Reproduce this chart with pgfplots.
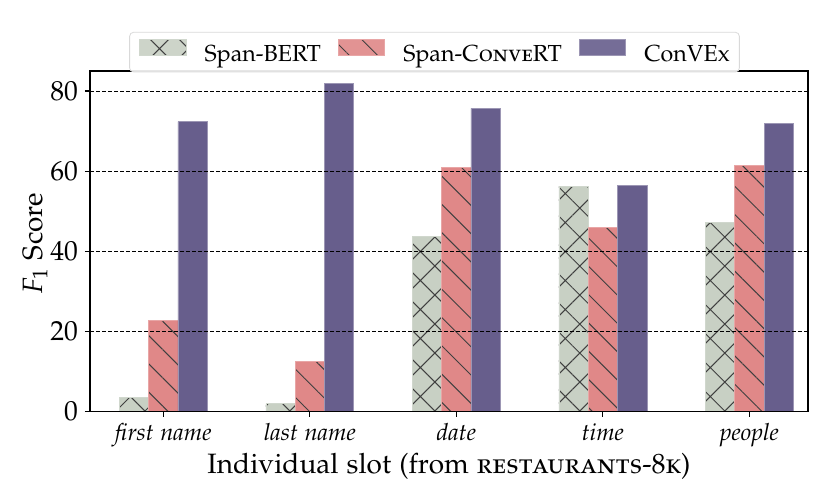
\documentclass[border=0pt]{standalone}
\usepackage[T1]{fontenc}
\usepackage[sc]{mathpazo}
\usepackage{pgfplots}
\pgfplotsset{compat=1.18}
\usetikzlibrary{patterns.meta}
\definecolor{cgreen}{RGB}{200,208,196}
\definecolor{cpink}{RGB}{224,136,136}
\definecolor{cpurple}{RGB}{103,94,140}
\definecolor{hatchc}{RGB}{64,64,64}
\begin{document}
\begin{tikzpicture}
\begin{axis}[
  scale only axis,
  width=359pt, height=170.35pt,
  xmin=-0.5, xmax=4.4, ymin=0, ymax=85,
  xtick={0,1,2,3,4},
  xticklabels={first name,last name,date,time,people},
  xticklabel style={font=\fontsize{11.8}{14}\selectfont\itshape, inner ysep=1pt, yshift=-2pt},
  ytick={0,20,40,60,80},
  yticklabel style={font=\fontsize{13.8}{15}\selectfont},
  ymajorgrids,
  grid style={black, line width=0.5pt, dash pattern=on 2pt off 1pt},
  axis line style={line width=0.8pt},
  axis on top,
  tick align=outside, tick pos=left,
  major tick length=2.5pt,
  tick style={black, line width=0.6pt},
  ybar=0pt, bar width=14.65pt,
  xlabel={Individual slot (from \textsc{restaurants-8k})},
  ylabel={$F_1$ Score},
  label style={font=\fontsize{14}{16}\selectfont},
  xlabel style={at={(axis description cs:0.5,0)}, anchor=center, yshift=-27.4pt, inner ysep=1pt},
  ylabel style={at={(axis description cs:-0.0766,0.494)}, anchor=center},
  legend columns=3,
  legend style={at={(axis description cs:0.4798,1.0555)}, anchor=center,
    draw=black!15, rounded corners=2pt, fill=white, fill opacity=0.9, text opacity=1,
    font=\fontsize{11.6}{13}\selectfont,
    inner xsep=4.8pt, inner ysep=3.6pt,
    nodes={inner sep=0pt},
    /tikz/every odd column/.append style={column sep=9.15pt},
    /tikz/every even column/.append style={column sep=8.5pt}},
  legend image code/.code={\draw[#1, sharp corners] (0pt,-0.1pt) rectangle (23.3pt,7.7pt);},
]
\addplot[fill=cgreen, draw=cgreen!85!white, line width=0.3pt,
  postaction={pattern={Hatch[angle=45,distance=10.25pt,line width=0.5pt]}, pattern color=hatchc}]
  coordinates {(0,3.5) (1,2.0) (2,43.8) (3,56.3) (4,47.3)};
\addlegendentry{Span-BERT}
\addplot[fill=cpink, draw=cpink!75!white, line width=0.3pt,
  postaction={pattern={Lines[angle=-45,distance=10pt,line width=0.5pt]}, pattern color=hatchc}]
  coordinates {(0,22.8) (1,12.6) (2,61.0) (3,45.9) (4,61.5)};
\addlegendentry{Span-C\textsc{onve}RT}
\addplot[fill=cpurple, draw=cpurple!65!white, line width=0.3pt]
  coordinates {(0,72.4) (1,81.9) (2,75.7) (3,56.5) (4,72.0)};
\addlegendentry{ConVEx}
\end{axis}
\pgfresetboundingbox
\path[use as bounding box] (-45pt,-43.15pt) rectangle (370pt,205.85pt);
\end{tikzpicture}
\end{document}
